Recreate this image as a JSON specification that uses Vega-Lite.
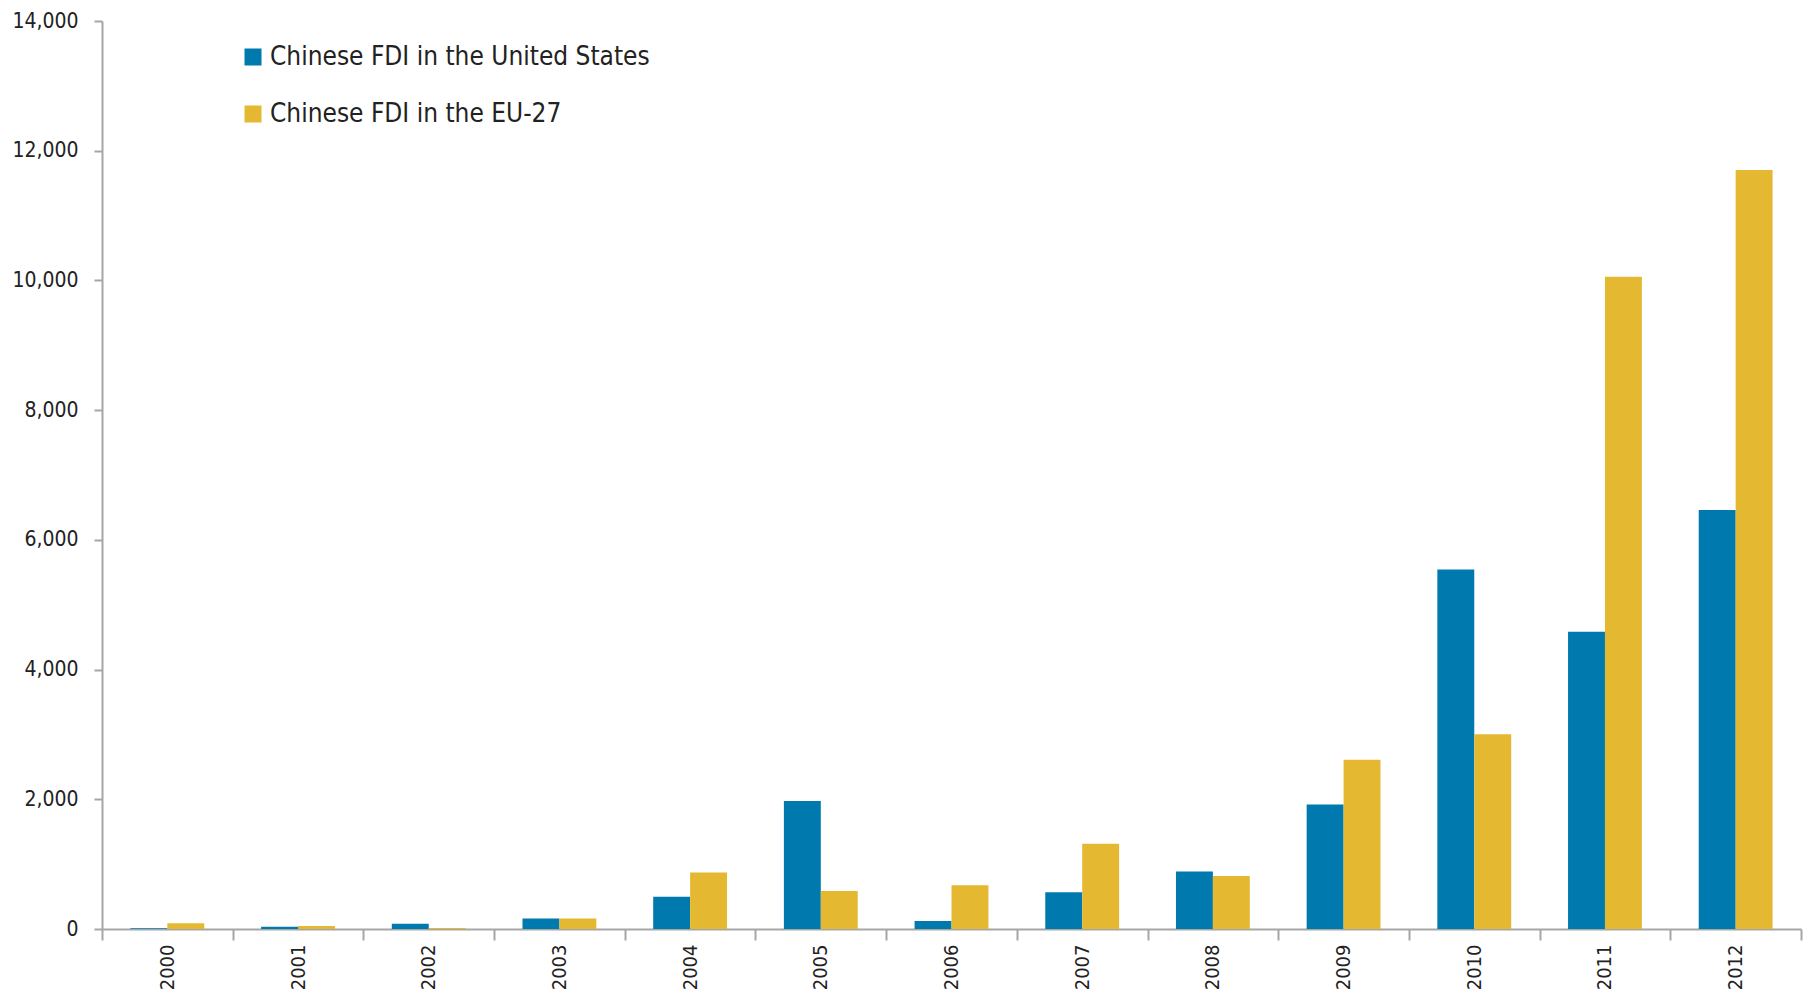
{
  "$schema": "https://vega.github.io/schema/vega-lite/v6.json",
  "width": 1699,
  "height": 908,
  "autosize": {"type": "none"},
  "padding": {"left": 102, "top": 21, "right": 7, "bottom": 69},
  "background": "white",
  "config": {"view": {"stroke": null}},
  "data": {
    "values": [
      {"year": "2000", "series": "Chinese FDI in the United States", "value": 10},
      {"year": "2000", "series": "Chinese FDI in the EU-27", "value": 88},
      {"year": "2001", "series": "Chinese FDI in the United States", "value": 36},
      {"year": "2001", "series": "Chinese FDI in the EU-27", "value": 46},
      {"year": "2002", "series": "Chinese FDI in the United States", "value": 82},
      {"year": "2002", "series": "Chinese FDI in the EU-27", "value": 15},
      {"year": "2003", "series": "Chinese FDI in the United States", "value": 160},
      {"year": "2003", "series": "Chinese FDI in the EU-27", "value": 160},
      {"year": "2004", "series": "Chinese FDI in the United States", "value": 497},
      {"year": "2004", "series": "Chinese FDI in the EU-27", "value": 870},
      {"year": "2005", "series": "Chinese FDI in the United States", "value": 1972},
      {"year": "2005", "series": "Chinese FDI in the EU-27", "value": 586},
      {"year": "2006", "series": "Chinese FDI in the United States", "value": 124},
      {"year": "2006", "series": "Chinese FDI in the EU-27", "value": 675},
      {"year": "2007", "series": "Chinese FDI in the United States", "value": 568},
      {"year": "2007", "series": "Chinese FDI in the EU-27", "value": 1315},
      {"year": "2008", "series": "Chinese FDI in the United States", "value": 888},
      {"year": "2008", "series": "Chinese FDI in the EU-27", "value": 817},
      {"year": "2009", "series": "Chinese FDI in the United States", "value": 1919},
      {"year": "2009", "series": "Chinese FDI in the EU-27", "value": 2611},
      {"year": "2010", "series": "Chinese FDI in the United States", "value": 5543},
      {"year": "2010", "series": "Chinese FDI in the EU-27", "value": 3002},
      {"year": "2011", "series": "Chinese FDI in the United States", "value": 4583},
      {"year": "2011", "series": "Chinese FDI in the EU-27", "value": 10057},
      {"year": "2012", "series": "Chinese FDI in the United States", "value": 6460},
      {"year": "2012", "series": "Chinese FDI in the EU-27", "value": 11702}
    ]
  },
  "mark": {"type": "bar"},
  "encoding": {
    "x": {
      "field": "year",
      "type": "nominal",
      "scale": {"paddingInner": 0, "paddingOuter": 0},
      "axis": {
        "title": null,
        "labelAngle": -90,
        "labelAlign": "right",
        "labelBaseline": "middle",
        "labelFont": "DejaVu Sans Condensed, Roboto, sans-serif",
        "labelFontSize": 20,
        "labelColor": "#222222",
        "labelPadding": 4,
        "tickBand": "extent",
        "tickSize": 11,
        "tickColor": "#a6a6a6",
        "tickWidth": 2,
        "domainColor": "#a6a6a6",
        "domainWidth": 2
      }
    },
    "xOffset": {
      "field": "series",
      "type": "nominal",
      "sort": ["Chinese FDI in the United States", "Chinese FDI in the EU-27"],
      "scale": {"paddingInner": 0, "paddingOuter": 0.77}
    },
    "y": {
      "field": "value",
      "type": "quantitative",
      "scale": {"domain": [0, 14000], "nice": false},
      "axis": {
        "title": null,
        "values": [0, 2000, 4000, 6000, 8000, 10000, 12000, 14000],
        "format": ",.0f",
        "grid": false,
        "labelFont": "DejaVu Sans Condensed, Roboto, sans-serif",
        "labelFontSize": 21,
        "labelColor": "#222222",
        "labelPadding": 16,
        "tickSize": 8,
        "tickColor": "#a6a6a6",
        "tickWidth": 2,
        "domainColor": "#a6a6a6",
        "domainWidth": 2
      }
    },
    "color": {
      "field": "series",
      "type": "nominal",
      "sort": ["Chinese FDI in the United States", "Chinese FDI in the EU-27"],
      "scale": {
        "domain": ["Chinese FDI in the United States", "Chinese FDI in the EU-27"],
        "range": ["#0079ae", "#e5b832"]
      },
      "legend": {
        "title": null,
        "orient": "none",
        "legendX": 138,
        "legendY": 23,
        "symbolType": "square",
        "symbolSize": 289,
        "symbolStrokeWidth": 0,
        "labelFont": "DejaVu Sans Condensed, Roboto, sans-serif",
        "labelFontSize": 26,
        "labelColor": "#222222",
        "labelOffset": 4,
        "rowPadding": 31,
        "labelLimit": 600
      }
    }
  }
}
